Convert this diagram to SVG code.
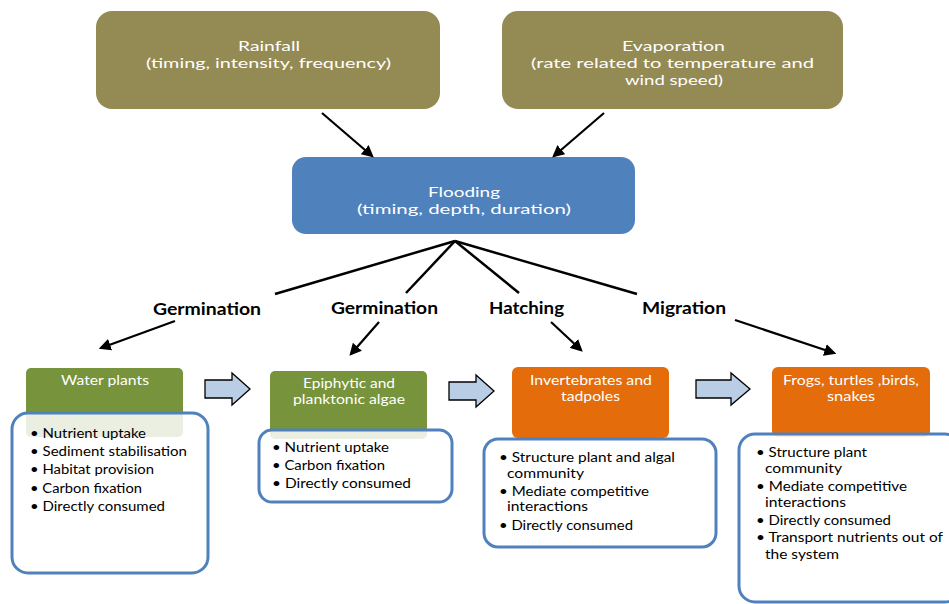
<svg xmlns="http://www.w3.org/2000/svg" width="949" height="604" viewBox="0 0 949 604">
<defs>
<style>
.top{fill:#948A54}
.flood{fill:#4F81BD}
.green{fill:#77933C}
.orange{fill:#E46C0A}
.wt{fill:#fff;font-family:Lato,"Liberation Sans",sans-serif;font-size:14px}
.ws{fill:#fff;font-family:Lato,"Liberation Sans",sans-serif;font-size:13px}
.lbl{fill:#000;font-family:Lato,"Liberation Sans",sans-serif;font-size:17px;font-weight:bold}
.lst{fill:#000;font-family:Lato,"Liberation Sans",sans-serif;font-size:12.5px}
.card{fill:#fff;fill-opacity:0.85;stroke:#4F81BD;stroke-width:3}
.blk{fill:#B9CDE5;stroke:#000;stroke-width:1.3}
.ln{stroke:#000;stroke-width:2.5;fill:none}
.ar{stroke:#000;stroke-width:2.2;fill:none;marker-end:url(#ah)}
</style>
<marker id="ah" viewBox="0 0 10 10" refX="8" refY="5" markerWidth="5.5" markerHeight="5.5" orient="auto-start-reverse" markerUnits="strokeWidth">
<path d="M0,0 L10,5 L0,10 z" fill="#000"/>
</marker>
</defs>
<rect width="949" height="604" fill="#fff"/>

<g id="rainfall">
<rect class="top" x="96" y="11" width="344" height="98" rx="16"/>
<text class="wt" x="238" y="51" textLength="62" lengthAdjust="spacingAndGlyphs">Rainfall</text>
<text class="wt" x="146" y="68" textLength="245" lengthAdjust="spacingAndGlyphs">(timing, intensity, frequency)</text>
</g>
<g id="evaporation">
<rect class="top" x="502" y="11" width="341" height="98" rx="16"/>
<text class="wt" x="622" y="51" textLength="103" lengthAdjust="spacingAndGlyphs">Evaporation</text>
<text class="wt" x="531" y="68" textLength="283" lengthAdjust="spacingAndGlyphs">(rate related to temperature and</text>
<text class="wt" x="625" y="85" textLength="98" lengthAdjust="spacingAndGlyphs">wind speed)</text>
</g>
<g id="flooding">
<rect class="flood" x="292" y="157" width="343" height="77" rx="14"/>
<text class="wt" x="428" y="197" textLength="72" lengthAdjust="spacingAndGlyphs">Flooding</text>
<text class="wt" x="357" y="214" textLength="214" lengthAdjust="spacingAndGlyphs">(timing, depth, duration)</text>
</g>

<g id="connectors">
<line class="ar" x1="322" y1="113" x2="372" y2="156"/>
<line class="ar" x1="604" y1="113" x2="554" y2="156"/>
<line class="ln" x1="455" y1="241" x2="275" y2="294"/>
<line class="ln" x1="455" y1="241" x2="406" y2="293"/>
<line class="ln" x1="455" y1="241" x2="519" y2="293"/>
<line class="ln" x1="455" y1="241" x2="637" y2="294"/>
<line class="ar" x1="175" y1="321" x2="101" y2="348"/>
<line class="ar" x1="379" y1="322" x2="351" y2="354"/>
<line class="ar" x1="551" y1="322" x2="581" y2="350"/>
<line class="ar" x1="735" y1="320" x2="834" y2="353"/>
<text class="lbl" x="153" y="315" textLength="108" lengthAdjust="spacingAndGlyphs">Germination</text>
<text class="lbl" x="331" y="314" textLength="107" lengthAdjust="spacingAndGlyphs">Germination</text>
<text class="lbl" x="489" y="314" textLength="75" lengthAdjust="spacingAndGlyphs">Hatching</text>
<text class="lbl" x="642" y="314" textLength="84" lengthAdjust="spacingAndGlyphs">Migration</text>
<path class="blk" d="M205,380 H232 V373 L250,389 L232,405 V398 H205 Z"/>
<path class="blk" d="M449,382 H476 V375 L494,391 L476,407 V400 H449 Z"/>
<path class="blk" d="M696,380 H731 V373 L750,389 L731,405 V398 H696 Z"/>
</g>

<g id="water-plants">
<rect class="green" x="26" y="368" width="157" height="69" rx="5"/>
<text class="ws" x="61" y="385" textLength="88" lengthAdjust="spacingAndGlyphs">Water plants</text>
<rect class="card" x="12" y="413" width="196" height="160" rx="16"/>
<g class="lst">
<text x="30" y="438" textLength="116" lengthAdjust="spacingAndGlyphs">• Nutrient uptake</text>
<text x="30" y="456" textLength="157" lengthAdjust="spacingAndGlyphs">• Sediment stabilisation</text>
<text x="30" y="474" textLength="124" lengthAdjust="spacingAndGlyphs">• Habitat provision</text>
<text x="30" y="493" textLength="112" lengthAdjust="spacingAndGlyphs">• Carbon fixation</text>
<text x="30" y="511" textLength="135" lengthAdjust="spacingAndGlyphs">• Directly consumed</text>
</g>
</g>

<g id="algae">
<rect class="green" x="270" y="371" width="157" height="68" rx="5"/>
<text class="ws" x="303" y="388" textLength="92" lengthAdjust="spacingAndGlyphs">Epiphytic and</text>
<text class="ws" x="293" y="404" textLength="112" lengthAdjust="spacingAndGlyphs">planktonic algae</text>
<rect class="card" x="259" y="430" width="193" height="72" rx="13"/>
<g class="lst">
<text x="272" y="452" textLength="117" lengthAdjust="spacingAndGlyphs">• Nutrient uptake</text>
<text x="272" y="470" textLength="113" lengthAdjust="spacingAndGlyphs">• Carbon fixation</text>
<text x="272" y="488" textLength="139" lengthAdjust="spacingAndGlyphs">• Directly  consumed</text>
</g>
</g>

<g id="invertebrates">
<rect class="orange" x="512" y="367" width="157" height="71" rx="6"/>
<text class="ws" x="530" y="385" textLength="122" lengthAdjust="spacingAndGlyphs">Invertebrates and</text>
<text class="ws" x="561" y="401" textLength="59" lengthAdjust="spacingAndGlyphs">tadpoles</text>
<rect class="card" x="484" y="439" width="232" height="108" rx="14"/>
<g class="lst">
<text x="499" y="462" textLength="176" lengthAdjust="spacingAndGlyphs">• Structure plant and algal</text>
<text x="507" y="478" textLength="77" lengthAdjust="spacingAndGlyphs">community</text>
<text x="499" y="496" textLength="150" lengthAdjust="spacingAndGlyphs">• Mediate competitive</text>
<text x="507" y="511" textLength="81" lengthAdjust="spacingAndGlyphs">interactions</text>
<text x="499" y="530" textLength="134" lengthAdjust="spacingAndGlyphs">• Directly consumed</text>
</g>
</g>

<g id="frogs">
<rect class="orange" x="772" y="367" width="158" height="70" rx="6"/>
<text class="ws" x="783" y="385" textLength="136" lengthAdjust="spacingAndGlyphs">Frogs, turtles ,birds,</text>
<text class="ws" x="827" y="401" textLength="48" lengthAdjust="spacingAndGlyphs">snakes</text>
<rect class="card" x="739" y="434" width="222" height="168" rx="16"/>
<g class="lst">
<text x="756" y="457" textLength="111" lengthAdjust="spacingAndGlyphs">• Structure plant</text>
<text x="765" y="473" textLength="77" lengthAdjust="spacingAndGlyphs">community</text>
<text x="756" y="491" textLength="151" lengthAdjust="spacingAndGlyphs">• Mediate competitive</text>
<text x="765" y="507" textLength="81" lengthAdjust="spacingAndGlyphs">interactions</text>
<text x="756" y="525" textLength="135" lengthAdjust="spacingAndGlyphs">• Directly consumed</text>
<text x="756" y="542" textLength="187" lengthAdjust="spacingAndGlyphs">• Transport nutrients out of</text>
<text x="765" y="559" textLength="74" lengthAdjust="spacingAndGlyphs">the system</text>
</g>
</g>
</svg>
